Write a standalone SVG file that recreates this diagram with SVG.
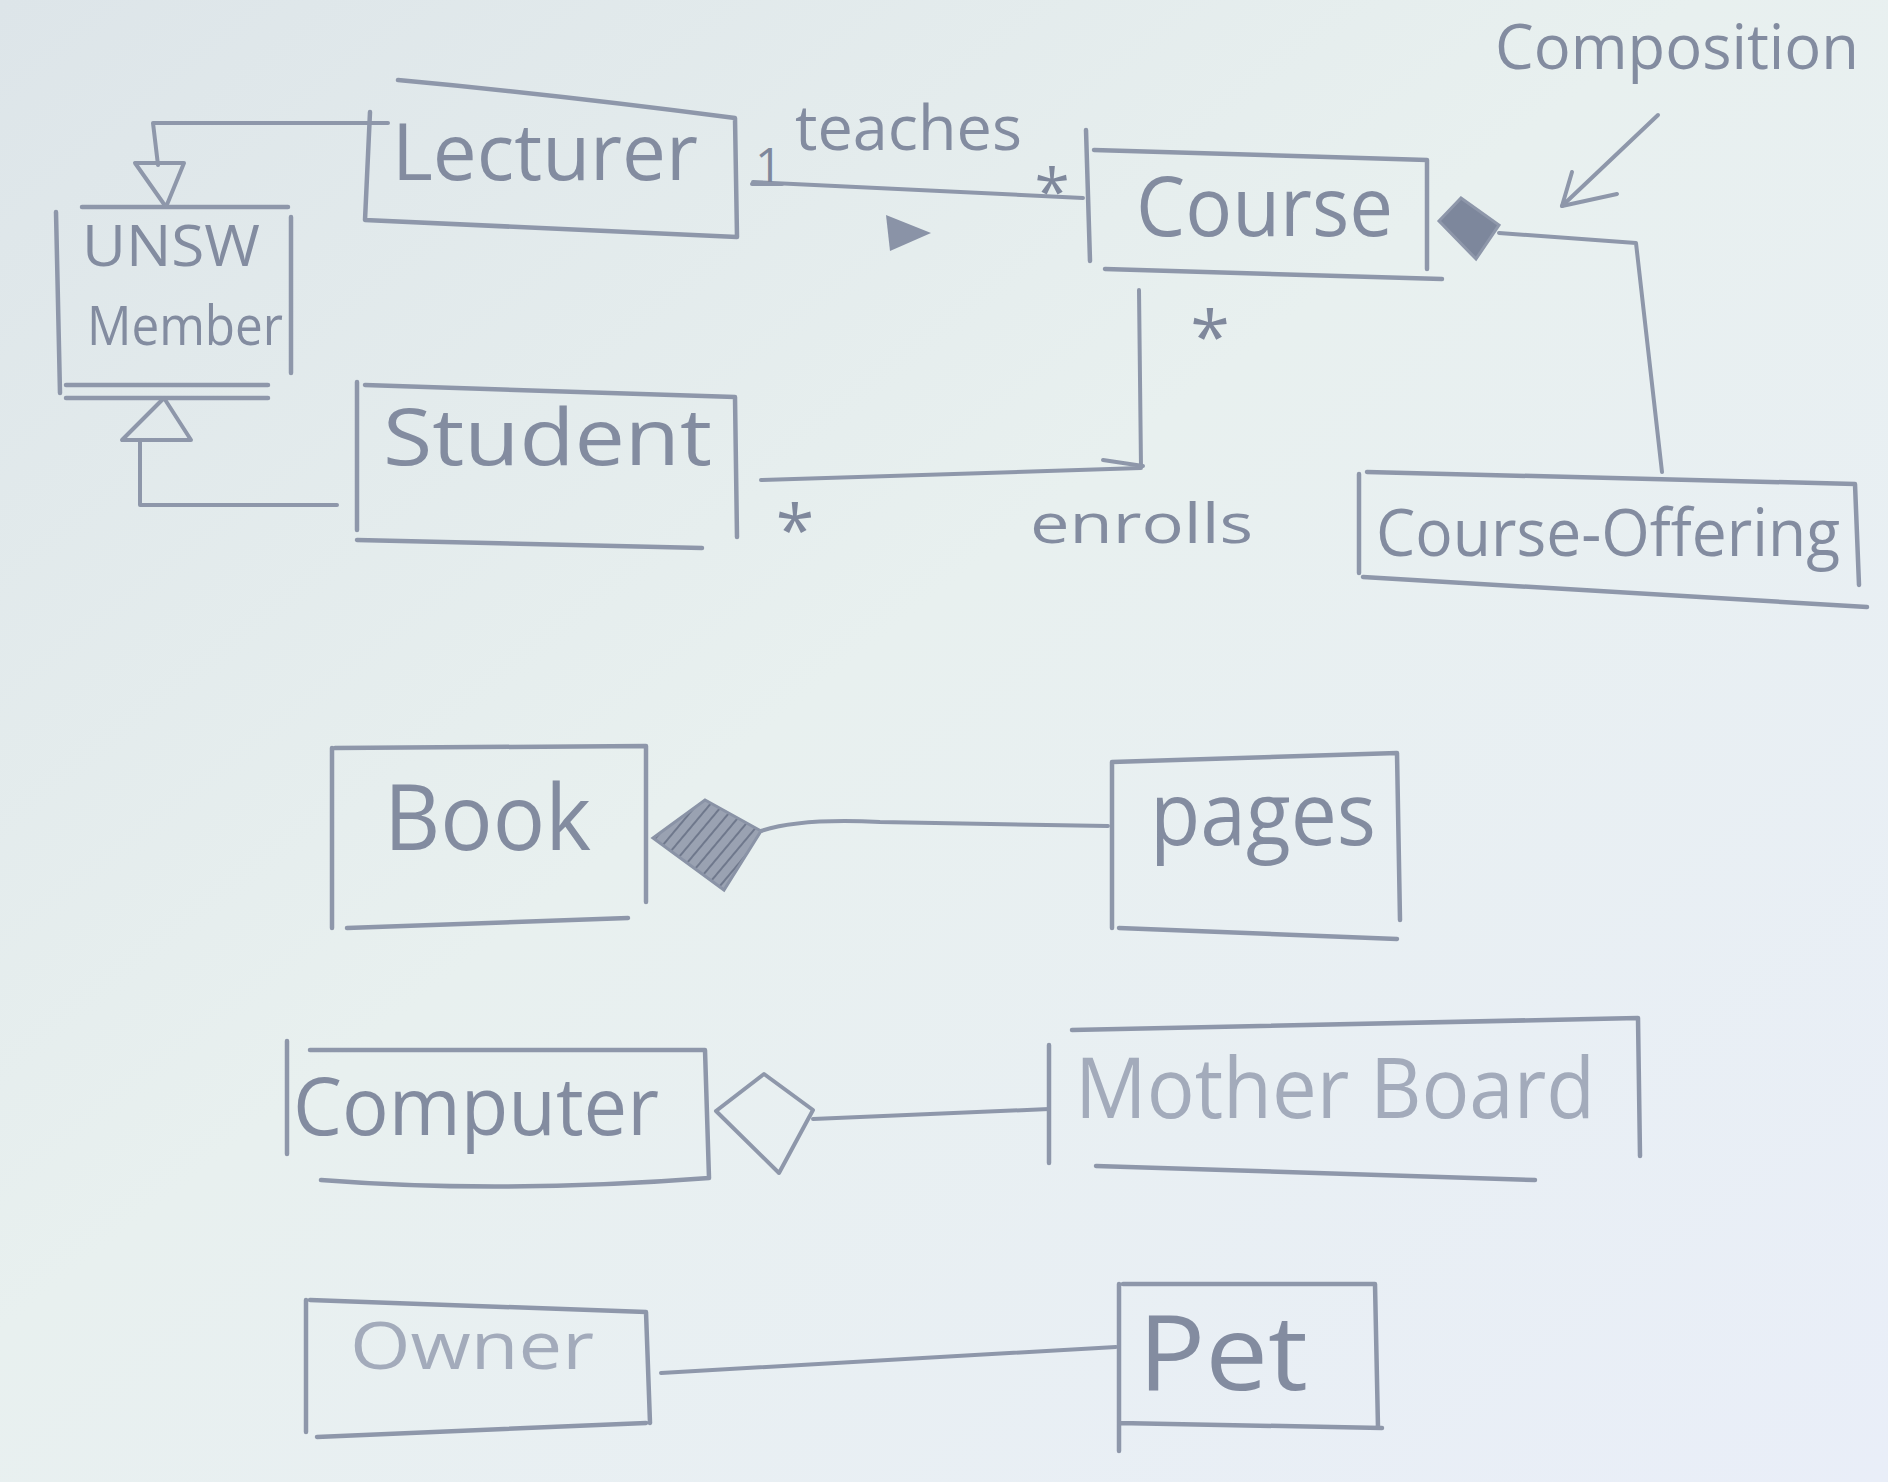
<svg xmlns="http://www.w3.org/2000/svg" width="1888" height="1482" viewBox="0 0 1888 1482">
<defs>
<linearGradient id="bg" x1="0" y1="0" x2="1" y2="1">
<stop offset="0" stop-color="#dde5e9"/>
<stop offset="0.45" stop-color="#e8f0ef"/>
<stop offset="1" stop-color="#e9eef8"/>
</linearGradient>
<pattern id="hatch" width="10" height="10" patternUnits="userSpaceOnUse" patternTransform="rotate(40)">
<rect width="10" height="10" fill="#9aa2b2"/>
<line x1="0" y1="0" x2="0" y2="10" stroke="#6f788c" stroke-width="4"/>
</pattern>
</defs>
<style>
.box{fill:none;stroke:#8e97aa;stroke-width:4.5;stroke-linecap:round;stroke-linejoin:round}
.ln{fill:none;stroke:#8e97aa;stroke-width:4;stroke-linecap:round;stroke-linejoin:round}
.lbl{font-family:"Open Sans","Liberation Sans",sans-serif;fill:#838ca0}
.light{fill:#a3abbb}
.mult{font-family:"Open Sans","Liberation Sans",sans-serif;fill:#7f889c}
</style>
<rect width="1888" height="1482" fill="url(#bg)"/>

<g id="connectors">
<path class="ln" d="M388,123 L153,123 L158,165"/>
<polygon class="ln" points="135,163 184,163 166,207"/>
<polygon class="ln" points="164,398 122,440 191,440"/>
<path class="ln" d="M140,440 L140,505 L337,505"/>
<path class="ln" d="M753,182 L1083,198"/>
<polygon points="886,215 931,233 890,251" fill="#8a93a7"/>
<path class="ln" d="M1139,290 L1141,468 L761,480"/>
<path class="ln" d="M1103,460 L1143,466"/>
<polygon points="1439,221 1461,198 1499,225 1476,259" fill="#7d879c" stroke="#8e97aa" stroke-width="3"/>
<path class="ln" d="M1499,233 L1636,243 L1662,472"/>
<path class="ln" d="M1658,115 L1562,206"/>
<path class="ln" d="M1572,172 L1562,206 L1617,194"/>
<polygon points="653,838 705,800 761,831 724,890" fill="url(#hatch)" stroke="#8a93a6" stroke-width="3"/>
<path class="ln" d="M761,831 Q800,818 880,822 L1108,826"/>
<path class="ln" d="M716,1111 L764,1074 L813,1110 L779,1173 Z"/>
<path class="ln" d="M813,1119 L1049,1109"/>
<path class="ln" d="M661,1373 L1116,1347"/>
</g>

<g id="lecturer">
<path class="box" d="M398,80 Q560,95 735,118 L737,237 L365,220 L370,112"/>
<text class="lbl" x="392" y="180" font-size="78" textLength="306" lengthAdjust="spacingAndGlyphs">Lecturer</text>
</g>

<g id="unsw-member">
<path class="box" d="M82,207 L288,207 M291,217 L291,373 M56,212 L60,393 M66,385 L268,385 M66,398 L268,398"/>
<text class="lbl" x="82" y="266" font-size="56" textLength="178" lengthAdjust="spacingAndGlyphs">UNSW</text>
<text class="lbl" x="87" y="345" font-size="54" textLength="196" lengthAdjust="spacingAndGlyphs">Member</text>
</g>

<g id="student">
<path class="box" d="M357,382 L357,530 M365,385 L735,397 L737,537 M357,540 L702,548"/>
<text class="lbl" x="383" y="465" font-size="78" textLength="329" lengthAdjust="spacingAndGlyphs">Student</text>
</g>

<g id="course">
<path class="box" d="M1086,130 L1090,261 M1094,150 L1427,160 L1427,269 M1105,269 L1442,279"/>
<text class="lbl" x="1136" y="236" font-size="82" textLength="257" lengthAdjust="spacingAndGlyphs">Course</text>
</g>

<g id="course-offering">
<path class="box" d="M1359,474 L1359,573 M1367,472 L1855,484 L1859,585 M1363,577 L1867,607"/>
<text class="lbl" x="1376" y="556" font-size="66" textLength="464" lengthAdjust="spacingAndGlyphs">Course-Offering</text>
</g>

<g id="labels">
<text class="lbl" x="795" y="150" font-size="62" textLength="227" lengthAdjust="spacingAndGlyphs">teaches</text>
<text class="mult" x="755" y="182" font-size="48">1</text>
<path class="ln" d="M752,184 L782,184"/>
<text class="mult" x="1052" y="215" font-size="64" text-anchor="middle">*</text>
<text class="mult" x="1210" y="362" font-size="72" text-anchor="middle">*</text>
<text class="mult" x="795" y="555" font-size="70" text-anchor="middle">*</text>
<text class="lbl" x="1030" y="543" font-size="54" textLength="223" lengthAdjust="spacingAndGlyphs">enrolls</text>
<text class="lbl" x="1495" y="69" font-size="62" textLength="364" lengthAdjust="spacingAndGlyphs">Composition</text>
</g>

<g id="book">
<path class="box" d="M335,748 L646,746 L646,902 M332,748 L332,928 M347,928 L628,918"/>
<text class="lbl" x="384" y="850" font-size="92" textLength="207" lengthAdjust="spacingAndGlyphs">Book</text>
</g>

<g id="pages">
<path class="box" d="M1112,762 L1397,753 L1400,920 M1112,762 L1112,928 M1119,928 L1397,939"/>
<text class="lbl" x="1150" y="845" font-size="88" textLength="226" lengthAdjust="spacingAndGlyphs">pages</text>
</g>

<g id="computer">
<path class="box" d="M310,1050 L705,1050 L709,1178 M287,1041 L287,1154 M321,1180 Q500,1194 709,1178"/>
<text class="lbl" x="293" y="1135" font-size="80" textLength="366" lengthAdjust="spacingAndGlyphs">Computer</text>
</g>

<g id="motherboard">
<path class="box" d="M1072,1030 L1638,1018 L1640,1156 M1049,1045 L1049,1163 M1096,1166 L1535,1180"/>
<text class="lbl light" x="1075" y="1118" font-size="84" textLength="520" lengthAdjust="spacingAndGlyphs">Mother Board</text>
</g>

<g id="owner">
<path class="box" d="M310,1300 L646,1312 L650,1423 M306,1300 L306,1432 M317,1437 L646,1423"/>
<text class="lbl light" x="350" y="1369" font-size="66" textLength="244" lengthAdjust="spacingAndGlyphs">Owner</text>
</g>

<g id="pet">
<path class="box" d="M1123,1284 L1375,1284 L1378,1428 M1119,1284 L1119,1451 M1119,1423 L1382,1428"/>
<text class="lbl" x="1138" y="1390" font-size="104" textLength="170" lengthAdjust="spacingAndGlyphs">Pet</text>
</g>
</svg>
